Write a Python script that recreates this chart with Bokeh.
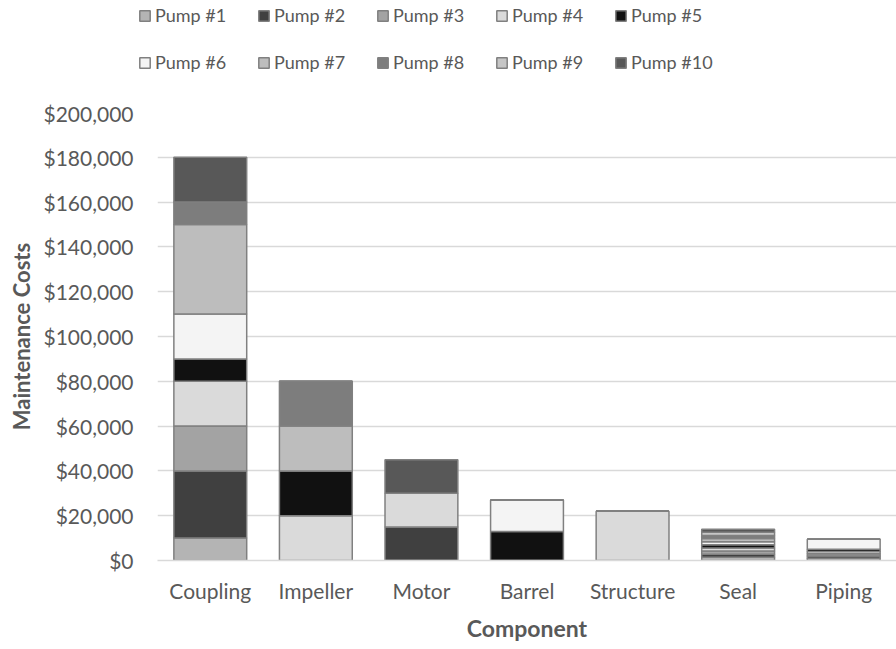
from bokeh.plotting import figure
from bokeh.layouts import column, row
from bokeh.models import Legend, NumeralTickFormatter, FixedTicker, Range1d, ColumnDataSource
from bokeh.embed import file_html
from bokeh.resources import INLINE

# Components on the x axis
components = ["Coupling", "Impeller", "Motor", "Barrel", "Structure", "Seal", "Piping"]

# Maintenance cost per pump, in component order
pump1 = [10000, 0, 0, 0, 0, 1400, 1000]
pump2 = [30000, 0, 15000, 0, 0, 1400, 1000]
pump3 = [20000, 0, 0, 0, 0, 1400, 1000]
pump4 = [20000, 20000, 15000, 0, 22000, 1400, 1000]
pump5 = [10000, 20000, 0, 13000, 0, 1400, 1000]
pump6 = [20000, 0, 0, 14000, 0, 1400, 4500]
pump7 = [40000, 20000, 0, 0, 0, 1400, 0]
pump8 = [10000, 20000, 0, 0, 0, 1400, 0]
pump9 = [0, 0, 0, 0, 0, 1400, 0]
pump10 = [20000, 0, 15000, 0, 0, 1400, 0]

pump_names = ["Pump #1", "Pump #2", "Pump #3", "Pump #4", "Pump #5",
              "Pump #6", "Pump #7", "Pump #8", "Pump #9", "Pump #10"]
pump_values = [pump1, pump2, pump3, pump4, pump5, pump6, pump7, pump8, pump9, pump10]
pump_colors = ["#b4b4b4", "#404040", "#a3a3a3", "#dadada", "#111111",
               "#f4f4f4", "#bdbdbd", "#7d7d7d", "#c6c6c6", "#585858"]

y_ticks = [0, 20000, 40000, 60000, 80000, 100000, 120000, 140000, 160000, 180000, 200000]

FONT = "Lato"
TEXT = "#595959"
EDGE = "#808080"

keys = [f"p{i + 1}" for i in range(len(pump_names))]
data = {"component": components}
for k, vals in zip(keys, pump_values):
    data[k] = vals
source = ColumnDataSource(data)

# ---- main stacked bar chart ----
p = figure(
    x_range=components,
    y_range=Range1d(0, 200000),
    width=896, height=549,
    output_backend="svg", toolbar_location=None,
    min_border_left=157, min_border_right=0,
    min_border_top=12, min_border_bottom=89,
)

p.vbar_stack(
    keys, x="component", width=0.69, source=source,
    fill_color=pump_colors, line_color=EDGE, line_width=1.5,
)

p.x_range.range_padding = 0
p.outline_line_color = None
p.xgrid.grid_line_color = None
p.ygrid.grid_line_color = "#d9d9d9"
p.ygrid.grid_line_width = 1.5

p.yaxis.ticker = FixedTicker(ticks=y_ticks)
p.yaxis.formatter = NumeralTickFormatter(format="$0,0")
p.yaxis.axis_line_color = None
p.yaxis.major_tick_line_color = None
p.yaxis.minor_tick_line_color = None
p.yaxis.major_label_standoff = 18
p.yaxis.axis_label = "Maintenance Costs"

p.xaxis.axis_line_color = "#d9d9d9"
p.xaxis.axis_line_width = 1.5
p.xaxis.major_tick_line_color = None
p.xaxis.major_label_standoff = 11
p.xaxis.axis_label = "Component"

for ax in (p.xaxis, p.yaxis):
    ax.major_label_text_font = FONT
    ax.major_label_text_font_size = "21px"
    ax.major_label_text_color = TEXT
    ax.axis_label_text_font = FONT
    ax.axis_label_text_font_style = "bold"
    ax.axis_label_text_color = TEXT
p.xaxis.axis_label_text_font_size = "23px"
p.yaxis.axis_label_text_font_size = "22px"
p.xaxis.axis_label_standoff = 8
p.yaxis.axis_label_standoff = 5

# ---- legend strip above the chart ----
# The stacked bars are registered here as hidden renderers, so the strip
# shows only the legend built from them.
lg = figure(
    width=896, height=100,
    x_range=components, y_range=Range1d(0, 200000),
    output_backend="svg", toolbar_location=None,
    x_axis_location=None, y_axis_location=None,
    min_border=0,
)
lg.outline_line_color = None
lg.xgrid.grid_line_color = None
lg.ygrid.grid_line_color = None

swatches = lg.vbar_stack(
    keys, x="component", width=0.69, source=source,
    fill_color=pump_colors, line_color=EDGE, line_width=1.5,
)
for r in swatches:
    r.visible = False

legend = Legend(
    items=[(name, [r]) for name, r in zip(pump_names, swatches)],
    orientation="horizontal", nrows=2,
    location=(138, 27),
    label_text_font=FONT, label_text_font_size="18px", label_text_color=TEXT,
    label_height=20, label_width=77,
    glyph_width=13, glyph_height=13, label_standoff=4,
    spacing=25, padding=0, margin=0,
    inactive_fill_alpha=0,
    border_line_color=None, background_fill_alpha=0,
)
lg.add_layout(legend, "center")

layout = column(row(lg), p, spacing=0)
open("out.html", "w").write(file_html(layout, INLINE))
